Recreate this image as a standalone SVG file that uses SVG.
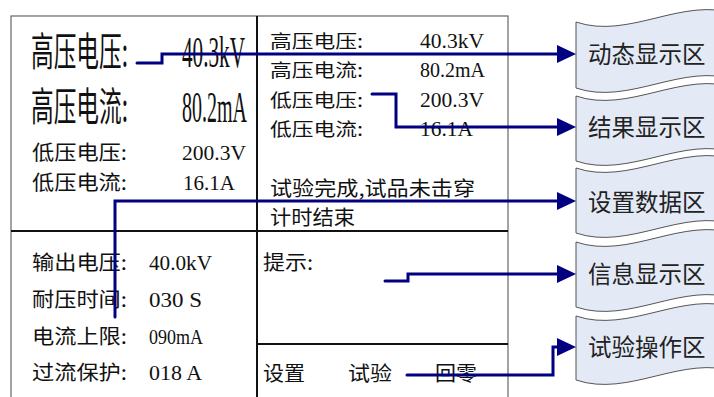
<svg xmlns="http://www.w3.org/2000/svg" width="714" height="397" viewBox="0 0 714 397">
<style>
text{font-family:"Liberation Serif","Noto Sans CJK SC",serif;fill:#111}
.cj{font-family:"Noto Sans CJK SC","Liberation Serif",serif}
.big{font-size:40px}
.bign{font-size:44px}
.sm{font-size:20px}
.rs{font-size:18px}
.smn{font-size:20px}
.frame{fill:#fff;stroke:#666;stroke-width:1.2}
.div{stroke:#111;stroke-width:2;fill:none}
.tape{fill:#E3EAF6;stroke:#555;stroke-width:1}
.tl{font-family:"Noto Sans CJK SC",sans-serif;font-size:23.5px;fill:#222}
.con{fill:none;stroke:#000080;stroke-width:3;stroke-linejoin:miter;stroke-linecap:round}
</style>
<defs>
<marker id="ah" viewBox="0 0 19 18" refX="9" refY="9" markerWidth="19" markerHeight="18" markerUnits="userSpaceOnUse" orient="auto">
<path d="M0,0 L19,9 L0,18 Z" fill="#000080"/>
</marker>
</defs>

<g id="screen">
<rect class="frame" x="11" y="16" width="497" height="400"/>
<line class="div" x1="257" y1="16" x2="257" y2="397"/>
<line class="div" x1="11" y1="231" x2="508" y2="231"/>
<line class="div" x1="257" y1="344" x2="508" y2="344"/>

<g id="dynamic-area">
<text class="cj big" x="31" y="66" textLength="97" lengthAdjust="spacingAndGlyphs">高压电压:</text>
<text class="bign" x="182" y="67" textLength="63" lengthAdjust="spacingAndGlyphs">40.3kV</text>
<text class="cj big" x="31" y="121" textLength="97" lengthAdjust="spacingAndGlyphs">高压电流:</text>
<text class="bign" x="182" y="122" textLength="65" lengthAdjust="spacingAndGlyphs">80.2mA</text>
<text class="cj sm" x="32" y="160" textLength="95" lengthAdjust="spacingAndGlyphs">低压电压:</text>
<text class="smn" x="182" y="160" textLength="64" lengthAdjust="spacingAndGlyphs">200.3V</text>
<text class="cj sm" x="32" y="190" textLength="95" lengthAdjust="spacingAndGlyphs">低压电流:</text>
<text class="smn" x="183" y="190" textLength="52" lengthAdjust="spacingAndGlyphs">16.1A</text>
</g>

<g id="result-area">
<text class="cj rs" x="270" y="48" textLength="93" lengthAdjust="spacingAndGlyphs">高压电压:</text>
<text class="smn" x="420" y="48" textLength="64" lengthAdjust="spacingAndGlyphs">40.3kV</text>
<text class="cj rs" x="270" y="77" textLength="93" lengthAdjust="spacingAndGlyphs">高压电流:</text>
<text class="smn" x="420" y="77" textLength="65" lengthAdjust="spacingAndGlyphs">80.2mA</text>
<text class="cj rs" x="270" y="107" textLength="93" lengthAdjust="spacingAndGlyphs">低压电压:</text>
<text class="smn" x="420" y="107" textLength="64" lengthAdjust="spacingAndGlyphs">200.3V</text>
<text class="cj rs" x="270" y="136" textLength="93" lengthAdjust="spacingAndGlyphs">低压电流:</text>
<text class="smn" x="420" y="136" textLength="53" lengthAdjust="spacingAndGlyphs">16.1A</text>
<text class="cj sm" x="270" y="196" textLength="205" lengthAdjust="spacingAndGlyphs">试验完成,试品未击穿</text>
<text class="cj sm" x="270" y="225" textLength="85" lengthAdjust="spacingAndGlyphs">计时结束</text>
</g>

<g id="setting-area">
<text class="cj sm" x="32" y="270" textLength="95" lengthAdjust="spacingAndGlyphs">输出电压:</text>
<text class="smn" x="149" y="270" textLength="63" lengthAdjust="spacingAndGlyphs">40.0kV</text>
<text class="cj sm" x="32" y="307" textLength="95" lengthAdjust="spacingAndGlyphs">耐压时间:</text>
<text class="smn" x="149" y="307" textLength="53" lengthAdjust="spacingAndGlyphs">030 S</text>
<text class="cj sm" x="32" y="344" textLength="95" lengthAdjust="spacingAndGlyphs">电流上限:</text>
<text class="smn" x="149" y="344" textLength="54" lengthAdjust="spacingAndGlyphs">090mA</text>
<text class="cj sm" x="32" y="380" textLength="95" lengthAdjust="spacingAndGlyphs">过流保护:</text>
<text class="smn" x="149" y="380" textLength="53" lengthAdjust="spacingAndGlyphs">018 A</text>
</g>

<g id="info-area">
<text class="cj sm" x="263" y="270" textLength="50" lengthAdjust="spacingAndGlyphs">提示:</text>
</g>

<g id="operation-area">
<text class="cj sm" x="263" y="381" textLength="42" lengthAdjust="spacingAndGlyphs">设置</text>
<text class="cj sm" x="348" y="381" textLength="44" lengthAdjust="spacingAndGlyphs">试验</text>
<text class="cj sm" x="435" y="381" textLength="42" lengthAdjust="spacingAndGlyphs">回零</text>
</g>
</g>

<g id="label-dynamic">
<path class="tape" d="M576,22 C629,40 683,-4 736,14 L736,80 C683,62 629,106 576,88 Z"/>
<text class="tl" x="588" y="63">动态显示区</text>
</g>
<g id="label-result">
<path class="tape" d="M576,96 C629,114 683,70 736,88 L736,153 C683,135 629,179 576,161 Z"/>
<text class="tl" x="588" y="136">结果显示区</text>
</g>
<g id="label-setting">
<path class="tape" d="M576,168 C629,186 683,142 736,160 L736,225 C683,207 629,251 576,233 Z"/>
<text class="tl" x="588" y="211">设置数据区</text>
</g>
<g id="label-info">
<path class="tape" d="M576,242 C629,260 683,216 736,234 L736,299 C683,281 629,325 576,307 Z"/>
<text class="tl" x="588" y="283">信息显示区</text>
</g>
<g id="label-operation">
<path class="tape" d="M576,316 C629,334 683,290 736,308 L736,372 C683,354 629,398 576,380 Z"/>
<text class="tl" x="588" y="356">试验操作区</text>
</g>

<g id="connectors">
<path class="con" d="M137,63 H162 V54 H566" marker-end="url(#ah)"/>
<path class="con" d="M372,94 H396 V127 H566" marker-end="url(#ah)"/>
<path class="con" d="M115,317 V201 H566" marker-end="url(#ah)"/>
<path class="con" d="M385,281 H408 V274 H566" marker-end="url(#ah)"/>
<path class="con" d="M407,375 H553 V347 H566" marker-end="url(#ah)"/>
</g>
</svg>
